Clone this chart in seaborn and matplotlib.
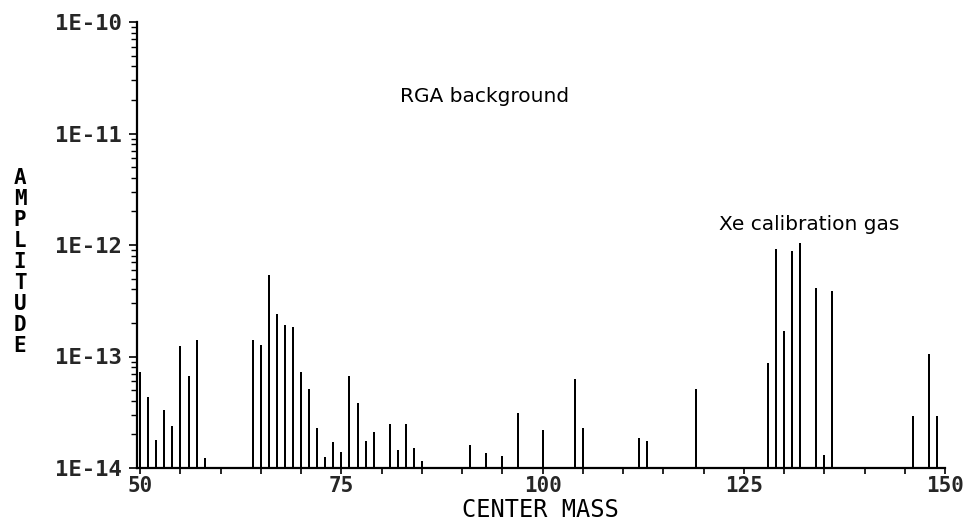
import matplotlib
matplotlib.use("Agg")
import matplotlib.pyplot as plt
import matplotlib.ticker as mticker
import seaborn as sns
import pandas as pd

# ---- data ----
masses = [50, 51, 52, 53, 54, 55, 56, 57, 58,
          64, 65, 66, 67, 68, 69, 70, 71, 72, 73, 74, 75, 76, 77, 78, 79,
          81, 82, 83, 84, 85,
          91, 93, 95, 97, 100, 104, 105, 112, 113, 119,
          128, 129, 130, 131, 132, 134, 135, 136,
          146, 148, 149]
amplitudes = [7.2e-14, 4.3e-14, 1.8e-14, 3.3e-14, 2.4e-14, 1.24e-13, 6.7e-14, 1.4e-13, 1.22e-14,
              1.42e-13, 1.28e-13, 5.4e-13, 2.4e-13, 1.9e-13, 1.83e-13, 7.3e-14, 5.1e-14, 2.3e-14,
              1.26e-14, 1.7e-14, 1.4e-14, 6.7e-14, 3.8e-14, 1.76e-14, 2.1e-14,
              2.5e-14, 1.45e-14, 2.5e-14, 1.5e-14, 1.15e-14,
              1.6e-14, 1.37e-14, 1.28e-14, 3.1e-14, 2.2e-14, 6.3e-14, 2.3e-14, 1.86e-14, 1.76e-14, 5.1e-14,
              8.8e-14, 9.2e-13, 1.7e-13, 8.8e-13, 1.05e-12, 4.15e-13, 1.3e-14, 3.9e-13,
              2.9e-14, 1.05e-13, 2.9e-14]
xtick_values = [50, 75, 100, 125, 150]
xtick_labels = ["50", "75", "100", "125", "150"]
ytick_values = [1e-14, 1e-13, 1e-12, 1e-11, 1e-10]
ytick_labels = ["1E-14", "1E-13", "1E-12", "1E-11", "1E-10"]
x_label = "CENTER MASS"
y_label = "AMPLITUDE"
annotations = ["RGA background", "Xe calibration gas"]

df = pd.DataFrame({"mass": masses, "amplitude": amplitudes})

sns.set_theme(style="ticks")
plt.rcParams["font.family"] = ["DejaVu Sans"]

W, H = 969, 529
fig = plt.figure(figsize=(W / 100, H / 100), dpi=100)
fig.patch.set_facecolor("white")
ax = fig.add_axes([137 / W, 1 - 468 / H, 808 / W, (468 - 22) / H])
ax.set_facecolor("white")

sns.barplot(data=df, x="mass", y="amplitude", native_scale=True, width=0.25,
            color="black", edgecolor="none", linewidth=0, ax=ax)

ax.set_yscale("log")
ax.set_ylim(1e-14, 1e-10)
ax.set_xlim(49.6, 150)

# spines
for s in ["top", "right"]:
    ax.spines[s].set_visible(False)
for s in ["left", "bottom"]:
    ax.spines[s].set_linewidth(1.6)
    ax.spines[s].set_color("black")

# ticks
mono = ["DejaVu Sans Mono"]
ax.xaxis.set_major_locator(mticker.FixedLocator(xtick_values))
ax.xaxis.set_minor_locator(mticker.MultipleLocator(5))
ax.set_xticklabels(xtick_labels, family=mono, fontweight="bold", fontsize=15)
ax.yaxis.set_major_locator(mticker.FixedLocator(ytick_values))
ax.yaxis.set_minor_locator(mticker.LogLocator(base=10, subs=range(2, 10), numticks=20))
ax.yaxis.set_minor_formatter(mticker.NullFormatter())
ax.set_yticklabels(ytick_labels, family=mono, fontweight="bold", fontsize=16)

ax.tick_params(axis="x", which="both", direction="out", length=4, width=1.2,
               color="black", pad=2)
ax.tick_params(axis="y", which="major", direction="out", length=6, width=1.2,
               color="black", pad=5)
ax.tick_params(axis="y", which="minor", direction="out", length=4, width=1.0,
               color="black")
ax.set_xlabel("")
ax.set_ylabel("")

# axis titles
fig.text(540 / W, 1 - 510 / H, x_label, ha="center", va="center",
         family=mono, fontsize=17, color="black")
fig.text(20 / W, 1 - 262 / H, "\n".join(y_label), ha="center", va="center",
         family=mono, fontweight="bold", fontsize=15, linespacing=1.07,
         color="black")

# annotations
fig.text(485 / W, 1 - 97 / H, annotations[0], ha="center", va="center",
         family=["DejaVu Sans"], fontsize=14.5, color="black")
fig.text(809 / W, 1 - 224 / H, annotations[1], ha="center", va="center",
         family=["DejaVu Sans"], fontsize=14.5, color="black")

fig.savefig("out.png", dpi=100, facecolor="white")
